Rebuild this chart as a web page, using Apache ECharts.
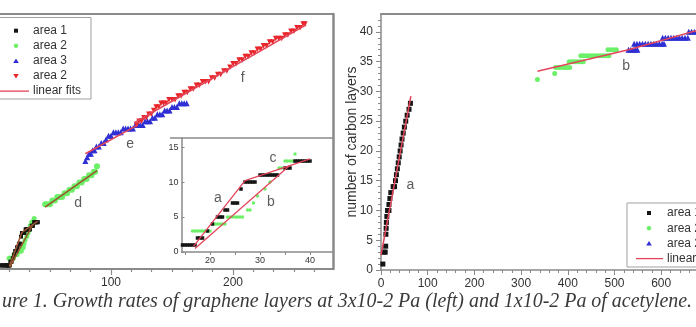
<!DOCTYPE html>
<html><head><meta charset="utf-8">
<script src="https://cdn.jsdelivr.net/npm/echarts@6/dist/echarts.min.js"></script>
<style>html,body{margin:0;padding:0;background:#fff}#c{width:696px;height:327px}</style>
</head><body><div id="c"></div>
<script>
// ---------- data: left panel (time vs. number of layers) ----------
const area1X = [9.5,10.5,11.5,12.5,13.5,14.5,15,15.5,16,16.5,17,17.5,18,18.5,19.5,20.5,21.5,22,22.5,23,23.5,24.5,25,25.5,26.2,27,27.5,28,28.5,29,30,30.5,31,31.5,32,32.5,33,33.5,35,35.5,36,37,37.5,38,38.5,39,39.5,40];
const area1Y = [1,1,1,1,1,1,1,1,1,1,1,2,2,2,3,4,5,5,5,6,6,7,7,7,9,10,10,10,10,10,11,11,11,11,11,11,11,11,12,12,12,13,13,13,13,13,13,13];
const area2aX = [16.5,17,17.5,18,18.5,19,19.5,20,20.5,21,21.5,22,22.5,23,23.5,24,24.5,25,25.5,26,26.5,27.5,28,28.7,29.5,31,32,32.7,33.2,33.8,34.3,35,35.5,36,36.5,37];
const area2aY = [3,3,3,3,3,3,3,3,4,4,4,4,4,4,5,5,5,5,5,5,5,6,6,7,8,9,10,11,11,12,12,13,13,13,13,14];
const area2dX = [46,48,50,52,54,56,58,60,62,64,66,68,70,72,74,76,78,80,82,84,86,87,88.5];
const area2dY = [18,18,18,19,19,20,20,20,21,21,22,22,23,23,24,24,25,25,26,26,27,27,28.5];
const area3X = [79,80.5,82,83.5,85,86.5,88,90,92,94,96,98,100,102,104,106,108,110,112,114,116,118,120,122,124,126,128,130,132,134,136,138,140,142,144,146,148,150,152,154,156,158,160,162];
const area3Y = [30,31,32,32,33,33,34,34,35,35,36,37,37,38,38,38,38,39,39,39,39,39,40,40,40,40,41,41,41,42,42,43,43,43,44,44,44,45,45,45,46,46,46,46];
const area2fX = [121,123,125,127,129,131,133,135,137,139,141,143,145,147.5,150,152.5,155,157.5,160,162.5,165,167.5,170,172.5,175,177.5,180,182.5,185,187.5,190,192.5,195,197.5,200,202.5,205,207.5,210,212.5,215,217.5,220,222.5,225,227.5,230,232.5,235,237.5,240,242.5,245,247.5,250,252.5,255,257.5,259];
const area2fY = [40,41,41,42,42,43,43,44,45,45,46,46,46,47,47,47,48,48,49,49,50,50,51,51,52,52,52,53,53,54,54,55,55,56,57,57,58,58,59,59,60,60,61,61,62,62,63,63,64,64,64,65,65,66,66,67,67,68,68];
const fitA = [[16.7,0.8],[27,10.2]];
const fitB = [[17,0.5],[36,12.4]];
const fitC = [[27,10.2],[40,13.3]];
const fitD = [[46,17.2],[88.5,27.3]];
const fitE = [[79,32],[122,40]];
const fitF = [[119,40.6],[260,67.8]];
const mainLabels = [{value:[73,18.3],name:'d'},{value:[115.6,34.7],name:'e'},{value:[208,53],name:'f'}];
const insetLabels = [{value:[21.6,7.7],name:'a'},{value:[32.2,7.1],name:'b'},{value:[32.6,13.4],name:'c'}];
const mainXTicks = [100,200];
const mainXMinor = [16.7,33.3,50,66.7,83.3,116.7,133.3,150,166.7,183.3,216.7,233.3,250,266.7];
const insetXTicks = [15,20,25,30,35,40];
const insetXLabels = [20,30,40];
const insetYTicks = [0,5,10,15];

// ---------- data: right panel ----------
const rArea1X = [4,6,9,10,10.5,11,11.5,12.5,14,17,17,19,21,26,29,31,33,35,37,39,41,43,45,47.5,50,53,56,60,63];
const rArea1Y = [1,3,3,4,6,7,8,9,10,10,11,12,13,14,14,15,16,17,18,19,20,21,22,23,24,25,26,27,28];
const rArea2X = [335,372,374,380,386,392,398,404,403,409,415,421,427,433,428,434,440,446,452,458,464,470,476,482,488,486,492,498,504];
const rArea2Y = [32,33,34,34,34,34,34,34,35,35,35,35,35,35,36,36,36,36,36,36,36,36,36,36,36,37,37,37,37];
const rArea3X = [530,535,540,545,549,542,548,554,560,566,572,578,584,590,596,602,606,603,609,615,621,627,633,639,645,651,657,659,665,671,677,683,689];
const rArea3Y = [37,37,37,37,37,38,38,38,38,38,38,38,38,38,38,38,38,39,39,39,39,39,39,39,39,39,39,40,40,40,40,40,40];
const rFitA = [[0,2.5],[64,29.2]];
const rFitB = [[335,33.4],[530,37]];
const rFitC = [[530,37],[720,41.2]];
const rLabels = [{value:[62.7,14.3],name:'a'},{value:[525,34.2],name:'b'}];
const rYTicks = [0,5,10,15,20,25,30,35,40];
const rYMinor = [1,2,3,4,6,7,8,9,11,12,13,14,16,17,18,19,21,22,23,24,26,27,28,29,31,32,33,34,36,37,38,39,41,42];

const caption = 'ure 1. Growth rates of graphene layers at 3x10-2 Pa (left) and 1x10-2 Pa of acetylene.';

// ---------- build ----------
const pts = (xs, ys) => xs.map((x, i) => [x, ys[i]]);
const gray = '#8a8a8a';
const BLACK = '#151515', GREEN = '#6cf068', BLUE = '#2f2fd4', RED = '#e8262b', FIT = '#e2455a', FITB = '#9a5530';
const sans = 'Liberation Sans';
const labelStyle = {fontFamily: sans, fontSize: 12, color: '#333'};
const noSplit = {show: false};

function borderAxis(grid, pos, min, max, w) {
  return {gridIndex: grid, type: 'value', position: pos, min: min, max: max,
    axisLine: {show: true, onZero: false, lineStyle: {color: gray, width: w}},
    axisTick: {show: false}, axisLabel: {show: false}, splitLine: noSplit};
}

const xAxis = [
  {gridIndex: 0, type: 'value', min: 9, max: 282, position: 'bottom',
    axisLine: {show: true, onZero: false, lineStyle: {color: gray, width: 2}},
    axisTick: {show: true, customValues: mainXTicks, length: 6, lineStyle: {color: gray, width: 1.2}},
    axisLabel: Object.assign({customValues: mainXTicks, margin: 8}, labelStyle), splitLine: noSplit},
  {gridIndex: 0, type: 'value', min: 9, max: 282, position: 'bottom',
    axisLine: {show: false, onZero: false},
    axisTick: {show: true, customValues: mainXMinor, length: 3, lineStyle: {color: gray, width: 1.2}},
    axisLabel: {show: false}, splitLine: noSplit},
  borderAxis(0, 'top', 9, 282, 2),
  {gridIndex: 1, type: 'value', min: 14.3, max: 44.6, position: 'bottom',
    axisLine: {show: true, onZero: false, lineStyle: {color: gray, width: 1.5}},
    axisTick: {show: true, customValues: insetXTicks, length: 3, lineStyle: {color: gray}},
    axisLabel: {customValues: insetXLabels, margin: 4, fontFamily: sans, fontSize: 9, color: '#333'}, splitLine: noSplit},
  {gridIndex: 2, type: 'value', min: 0, max: 800, interval: 100, position: 'bottom',
    axisLine: {show: true, onZero: false, lineStyle: {color: gray, width: 1.5}},
    axisTick: {show: true, length: 5, lineStyle: {color: gray}},
    minorTick: {show: true, splitNumber: 5, length: 3, lineStyle: {color: gray}},
    axisLabel: Object.assign({margin: 8}, labelStyle), splitLine: noSplit, minorSplitLine: noSplit},
  borderAxis(2, 'top', 0, 800, 2)
];

const yAxis = [
  {gridIndex: 0, type: 'value', min: 0, max: 70.8, position: 'left',
    axisLine: {show: false, onZero: false}, axisTick: {show: false}, axisLabel: {show: false}, splitLine: noSplit},
  borderAxis(0, 'right', 0, 70.8, 2.5),
  {gridIndex: 1, type: 'value', min: 0, max: 16.29, position: 'left',
    axisLine: {show: true, onZero: false, lineStyle: {color: gray, width: 1.5}},
    axisTick: {show: true, customValues: insetYTicks, length: 3, inside: true, lineStyle: {color: gray}},
    axisLabel: {customValues: insetYTicks, margin: 3, fontFamily: sans, fontSize: 9, color: '#333'}, splitLine: noSplit},
  {gridIndex: 2, type: 'value', min: 0, max: 43, position: 'left',
    name: 'number of carbon layers', nameLocation: 'middle', nameGap: 22, nameMoveOverlap: false,
    nameTextStyle: {fontFamily: sans, fontSize: 14, color: '#333'},
    axisLine: {show: true, onZero: false, lineStyle: {color: gray, width: 1.5}},
    axisTick: {show: true, customValues: rYTicks, length: 5, lineStyle: {color: gray}},
    axisLabel: Object.assign({customValues: rYTicks, margin: 8}, labelStyle), splitLine: noSplit},
  {gridIndex: 2, type: 'value', min: 0, max: 43, position: 'left',
    axisLine: {show: false, onZero: false},
    axisTick: {show: true, customValues: rYMinor, length: 3, lineStyle: {color: gray}},
    axisLabel: {show: false}, splitLine: noSplit}
];

function scat(name, data, xi, yi, symbol, size, color, rot) {
  return {type: 'scatter', name: name, data: data, xAxisIndex: xi, yAxisIndex: yi, symbol: symbol,
    symbolSize: size, symbolRotate: rot || 0, clip: true, itemStyle: {color: color, opacity: 1}, silent: true};
}
function fit(data, xi, yi, color, w) {
  return {type: 'line', name: 'linear fits', data: data, xAxisIndex: xi, yAxisIndex: yi, symbol: 'none',
    clip: true, lineStyle: {color: color, width: w || 1.5}, silent: true, z: 3};
}
function letters(data, xi, yi) {
  return {type: 'scatter', data: data, xAxisIndex: xi, yAxisIndex: yi, symbolSize: 1, silent: true,
    itemStyle: {color: 'rgba(0,0,0,0)'}, z: 4,
    label: {show: true, position: 'inside', formatter: '{b}', fontFamily: sans, fontSize: 14, color: '#333'}};
}

const series = [
  // main left
  scat('area 2', pts(area2aX, area2aY), 0, 0, 'circle', 5, GREEN),
  scat('area 1', pts(area1X, area1Y), 0, 0, 'rect', 4, BLACK),
  scat('area 2', pts(area2dX, area2dY), 0, 0, 'circle', 6, GREEN),
  scat('area 3', pts(area3X, area3Y), 0, 0, 'triangle', 6, BLUE),
  scat('area 2', pts(area2fX, area2fY), 0, 0, 'triangle', 5.5, RED, 180),
  fit(fitA, 0, 0, FITB), fit(fitB, 0, 0, FITB), fit(fitC, 0, 0, FITB), fit(fitD, 0, 0, FITB),
  fit(fitE, 0, 0, FIT), fit(fitF, 0, 0, FIT),
  letters(mainLabels, 0, 0),
  // inset
  scat('area 2', pts(area2aX, area2aY), 3, 2, 'circle', 3.5, GREEN),
  scat('area 1', pts(area1X, area1Y), 3, 2, 'rect', 3.5, BLACK),
  fit(fitA, 3, 2, FIT, 1.3), fit(fitB, 3, 2, FIT, 1.3), fit(fitC, 3, 2, FIT, 1.3),
  letters(insetLabels, 3, 2),
  // right
  scat('area 1', pts(rArea1X, rArea1Y), 4, 3, 'rect', 5, BLACK),
  scat('area 2', pts(rArea2X, rArea2Y), 4, 3, 'circle', 5, GREEN),
  scat('area 2', pts(rArea3X, rArea3Y), 4, 3, 'triangle', 6, BLUE),
  fit(rFitA, 4, 3, FIT), fit(rFitB, 4, 3, FIT), fit(rFitC, 4, 3, FIT),
  letters(rLabels, 4, 3)
];

// caption size fitted to the reference width
const ctx = document.createElement('canvas').getContext('2d');
ctx.font = 'italic 20px "Liberation Serif"';
const capSize = 20 * 691 / ctx.measureText(caption).width;

function legendBox(x, y, w, h, rows, symX, textX, y0, dy, lineX0, lineX1) {
  const g = [{type: 'rect', shape: {x: x, y: y, width: w, height: h}, style: {fill: '#fff', stroke: '#a0a0a0', lineWidth: 1}, z: 10}];
  rows.forEach((r, i) => {
    const cy = y0 + i * dy;
    if (r.kind === 'rect') g.push({type: 'rect', shape: {x: symX - 2, y: cy - 2, width: 4, height: 4}, style: {fill: r.color}, z: 11});
    if (r.kind === 'circle') g.push({type: 'circle', shape: {cx: symX, cy: cy, r: 2.2}, style: {fill: r.color}, z: 11});
    if (r.kind === 'up') g.push({type: 'polygon', shape: {points: [[symX, cy - 2.5], [symX + 2.8, cy + 2], [symX - 2.8, cy + 2]]}, style: {fill: r.color}, z: 11});
    if (r.kind === 'down') g.push({type: 'polygon', shape: {points: [[symX, cy + 2.5], [symX + 2.8, cy - 2], [symX - 2.8, cy - 2]]}, style: {fill: r.color}, z: 11});
    if (r.kind === 'line') g.push({type: 'line', shape: {x1: lineX0, y1: cy, x2: lineX1, y2: cy}, style: {stroke: FIT, lineWidth: 1.3}, z: 11});
    g.push({type: 'text', x: textX, y: cy, style: {text: r.text, fill: '#333', font: '12px "Liberation Sans"', verticalAlign: 'middle'}, z: 11});
  });
  return g;
}

const graphic = [].concat(
  [{type: 'line', shape: {x1: 170, y1: 138, x2: 333, y2: 138}, style: {stroke: gray, lineWidth: 1.5}, z: 5}],
  legendBox(-1, 17.5, 92, 81.5, [
    {kind: 'rect', color: BLACK, text: 'area 1'},
    {kind: 'circle', color: GREEN, text: 'area 2'},
    {kind: 'up', color: BLUE, text: 'area 3'},
    {kind: 'down', color: RED, text: 'area 2'},
    {kind: 'line', text: 'linear fits'}
  ], 16, 33, 30.7, 15.1, 0, 29),
  legendBox(627, 203, 100, 64, [
    {kind: 'rect', color: BLACK, text: 'area 1'},
    {kind: 'circle', color: GREEN, text: 'area 2'},
    {kind: 'up', color: BLUE, text: 'area 2'},
    {kind: 'line', text: 'linear fits'}
  ], 649, 667, 213, 15.2, 636, 663),
  [{type: 'text', x: 2, y: 302, style: {text: caption, fill: '#3a3a3a', font: 'italic ' + capSize.toFixed(2) + 'px "Liberation Serif"', verticalAlign: 'middle'}, z: 11}]
);

const chart = echarts.init(document.getElementById('c'), null, {renderer: 'canvas'});
chart.setOption({
  animation: false,
  backgroundColor: '#fff',
  grid: [
    {left: 0, right: 363, top: 14, bottom: 58, containLabel: false, outerBoundsMode: 'none'},
    {left: 181.5, right: 363, top: 138, bottom: 75, containLabel: false, outerBoundsMode: 'none'},
    {left: 381, right: -58.6, top: 14, bottom: 57, containLabel: false, outerBoundsMode: 'none'}
  ],
  xAxis: xAxis,
  yAxis: yAxis,
  series: series,
  graphic: graphic
});
</script></body></html>
